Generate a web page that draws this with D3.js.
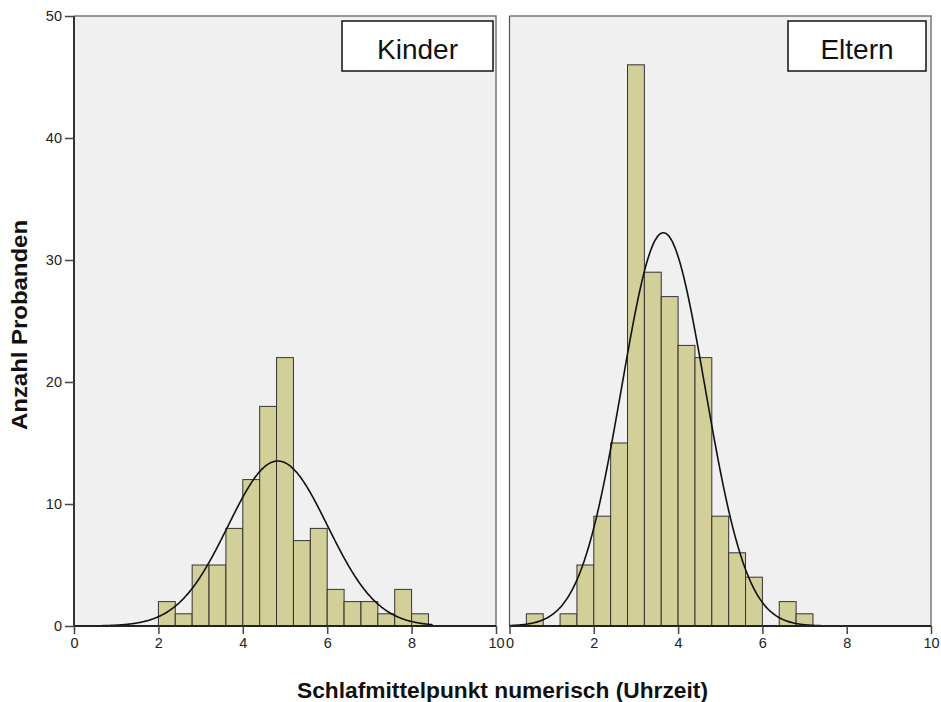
<!DOCTYPE html>
<html><head><meta charset="utf-8">
<script src="https://cdn.jsdelivr.net/npm/d3@7"></script>
<style>body{margin:0;background:#fff}svg{display:block}</style>
</head><body>
<script>
// ---- data ----
const binWidth = 0.4;
const kinderStart = 2.0;
const kinderCounts = [2,1,5,5,8,12,18,22,7,8,3,2,2,1,3,1];
const elternStart = 0.4;
const elternCounts = [1,0,1,5,9,15,46,29,27,23,22,9,6,4,0,2,1];
const kinderNormal = {mean:4.83, sd:1.18, n:100};
const elternNormal = {mean:3.65, sd:0.99, n:200};
const panelLabels = ["Kinder","Eltern"];
const xTicks = [0,2,4,6,8,10];
const yTicks = [0,10,20,30,40,50];

const W=941,H=702;
const svg=d3.select("body").append("svg").attr("width",W).attr("height",H);
const pTop=16,pBottom=626;
const y=d3.scaleLinear().domain([0,50]).range([pBottom,pTop]);
const panels=[
 {x0:74,x1:496,start:kinderStart,counts:kinderCounts,norm:kinderNormal,label:panelLabels[0],box:[342,493]},
 {x0:509.5,x1:931,start:elternStart,counts:elternCounts,norm:elternNormal,label:panelLabels[1],box:[788,926]}
];
const font="'Liberation Sans', Arial, sans-serif";

panels.forEach((p,i)=>{
  const x=d3.scaleLinear().domain([0,10]).range([p.x0,p.x1]);
  const g=svg.append("g");
  g.append("rect").attr("x",p.x0).attr("y",pTop).attr("width",p.x1-p.x0).attr("height",pBottom-pTop).attr("fill","#f0f0f0");
  g.append("path").attr("d",`M${p.x0},${pTop}H${p.x1}V${pBottom}`).attr("fill","none").attr("stroke","#777").attr("stroke-width",1.5);
  if(i===1) g.append("line").attr("x1",p.x0).attr("x2",p.x0).attr("y1",pTop).attr("y2",pBottom).attr("stroke","#555").attr("stroke-width",1.2);
  const bins=p.counts.map((c,k)=>({x0:p.start+k*binWidth,x1:p.start+(k+1)*binWidth,c})).filter(d=>d.c>0);
  g.selectAll("rect.bar").data(bins).join("rect").attr("class","bar")
   .attr("x",d=>x(d.x0)).attr("width",d=>x(d.x1)-x(d.x0))
   .attr("y",d=>y(d.c)).attr("height",d=>y(0)-y(d.c))
   .attr("fill","#d3cf98").attr("stroke","#333").attr("stroke-width",1);
  const n=p.norm;
  const pts=d3.range(0,8.5001,0.02).map(v=>[v,n.n*binWidth/(n.sd*Math.sqrt(2*Math.PI))*Math.exp(-((v-n.mean)**2)/(2*n.sd*n.sd))]);
  g.append("path").datum(pts).attr("d",d3.line().x(d=>x(d[0])).y(d=>y(d[1])).curve(d3.curveBasis))
   .attr("fill","none").attr("stroke","#111").attr("stroke-width",1.6);
  const xa=g.append("g").attr("transform",`translate(0,${pBottom})`).call(d3.axisBottom(x).tickValues(xTicks).tickSize(8).tickPadding(4).tickFormat(d3.format("d")));
  xa.select(".domain").attr("stroke","#222").attr("stroke-width",2).attr("d",`M${p.x0},0H${p.x1}`);
  xa.selectAll(".tick line").attr("stroke","#444").attr("stroke-width",1.5);
  xa.selectAll("text").attr("font-family",font).attr("font-size",14.5).attr("fill","#222");
  g.append("rect").attr("x",p.box[0]).attr("y",21).attr("width",p.box[1]-p.box[0]).attr("height",50).attr("fill","#fff").attr("stroke","#111").attr("stroke-width",1.5);
  g.append("text").attr("x",(p.box[0]+p.box[1])/2).attr("y",59).attr("text-anchor","middle").attr("font-family",font).attr("font-size",28).attr("fill","#111").text(p.label);
});

const ya=svg.append("g").attr("transform","translate(74,0)").call(d3.axisLeft(y).tickValues(yTicks).tickSize(9).tickPadding(3));
ya.select(".domain").attr("stroke","#333").attr("stroke-width",2).attr("d",`M0,${pTop}V${pBottom}`);
ya.selectAll(".tick line").attr("stroke","#444").attr("stroke-width",1.5);
ya.selectAll("text").attr("font-family",font).attr("font-size",14.5).attr("fill","#222");

svg.append("text").attr("transform","translate(27,325) rotate(-90)").attr("text-anchor","middle")
 .attr("font-family",font).attr("font-weight","bold").attr("font-size",22.5).attr("fill","#111")
 .attr("textLength",210).attr("lengthAdjust","spacingAndGlyphs").text("Anzahl Probanden");
svg.append("text").attr("x",502.5).attr("y",698).attr("text-anchor","middle")
 .attr("font-family",font).attr("font-weight","bold").attr("font-size",22.5).attr("fill","#111")
 .attr("textLength",411).attr("lengthAdjust","spacingAndGlyphs").text("Schlafmittelpunkt numerisch (Uhrzeit)");
</script>
</body></html>
